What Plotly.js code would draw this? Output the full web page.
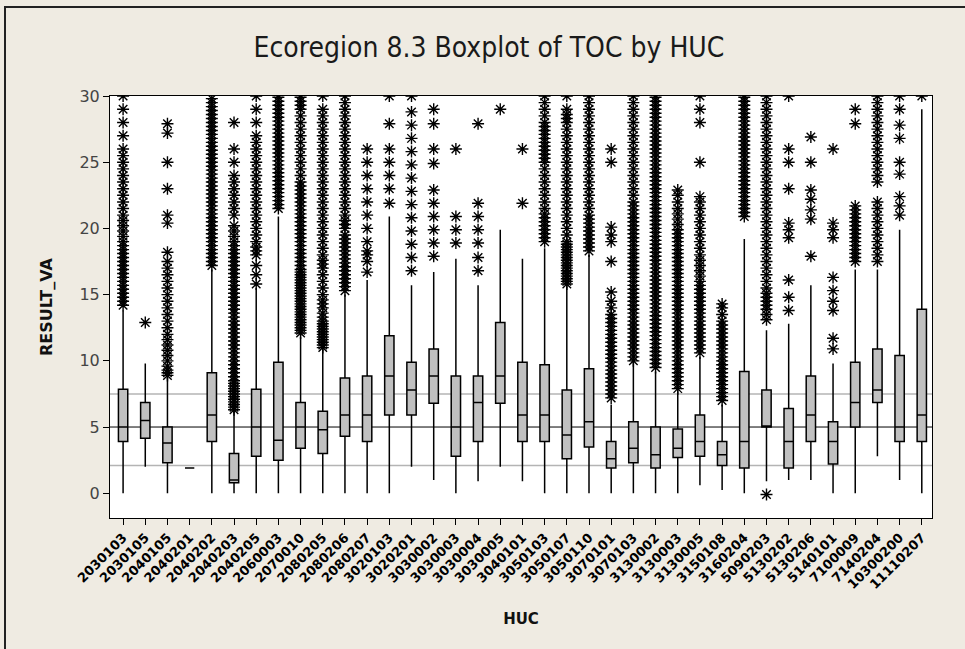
<!DOCTYPE html>
<html>
<head>
<meta charset="utf-8">
<script src="https://cdn.plot.ly/plotly-3.0.1.min.js"></script>
<style>
html,body{margin:0;padding:0;background:#efebe2;}
#chart{width:965px;height:649px;}
</style>
</head>
<body>
<div id="chart"></div>
<script>
// ---- data ----
var categories = ["2030103","2030105","2040105","2040201","2040202","2040203","2040205","2060003","2070010","2080205","2080206","2080207","3020103","3020201","3030002","3030003","3030004","3030005","3040101","3050103","3050107","3050110","3070101","3070103","3130002","3130003","3130005","3150108","3160204","5090203","5130202","5130206","5140101","7100009","7140204","10300200","11110207"];

var q1Values     = [3.9,4.15,2.3,1.9,3.9,0.8,2.8,2.5,3.4,3.0,4.3,3.9,5.9,5.9,6.8,2.8,3.9,6.8,3.9,3.9,2.6,3.5,1.9,2.3,1.9,2.7,2.8,2.1,1.9,5.0,1.9,3.9,2.2,5.0,6.85,3.9,3.9];
var medianValues = [5.0,5.5,3.8,1.9,5.9,1.0,5.0,4.0,5.0,4.8,5.9,5.9,8.86,7.8,8.86,5.0,6.85,8.86,5.9,5.9,4.4,5.4,2.6,3.4,2.9,3.4,3.9,2.9,3.9,5.0,3.9,5.9,3.9,6.85,7.8,5.0,5.9];
var q3Values     = [7.85,6.85,5.0,1.9,9.1,3.0,7.85,9.9,6.85,6.2,8.7,8.86,11.9,9.9,10.9,8.86,8.86,12.9,9.9,9.7,7.8,9.4,3.9,5.4,5.0,4.85,5.9,3.9,9.2,7.8,6.4,8.86,5.4,9.9,10.9,10.4,13.9];
var lowerWhisker = [0,2.0,0,1.9,0,0,0,0,0,0,0,0,0,2.0,1.0,0,0.9,2.0,0.9,0,0,0,0,0,0,0,0.6,0.25,0,0.9,1.0,1.0,0,0,2.8,1.0,0];
var upperWhisker = [13.8,9.8,8.7,1.9,16.9,6.2,15.5,20.9,11.8,10.8,15.0,16.1,20.9,15.7,16.7,17.7,15.7,19.9,17.7,18.5,15.6,18.0,6.7,9.9,9.2,7.7,10.3,6.7,19.2,12.3,12.8,15.7,9.8,16.9,16.9,19.9,29.0];

var outliers = [
  [14.2,14.5,14.8,15.1,15.4,15.7,16,16.3,16.6,16.9,17.2,17.5,17.8,18.1,18.4,18.7,19,19.4,19.8,20.2,20.6,21,21.5,22,22.5,23,23.5,24,24.5,25,25.5,26,27,28,29,30],
  [12.9],
  [8.9,9.1,9.3,9.6,10,10.4,10.8,11.2,11.6,12,12.5,13,13.5,14,14.5,15,15.5,16,16.5,17,17.5,18.2,20.4,21,23,25,27.2,27.9],
  [],
  [17.2,17.5,17.8,18.1,18.4,18.7,19,19.3,19.6,19.9,20.2,20.5,20.8,21.1,21.4,21.7,22,22.3,22.6,22.9,23.2,23.5,23.8,24.1,24.4,24.7,25,25.3,25.6,25.9,26.2,26.5,26.8,27.1,27.4,27.7,28,28.3,28.6,28.9,29.2,29.5,29.8],
  [6.3,6.5,6.7,6.9,7.1,7.3,7.5,7.7,7.9,8.1,8.3,8.5,8.8,9.1,9.4,9.7,10,10.3,10.6,10.9,11.2,11.5,11.8,12.1,12.4,12.7,13,13.3,13.6,13.9,14.2,14.5,14.8,15.1,15.4,15.7,16,16.3,16.6,16.9,17.2,17.5,17.8,18.1,18.4,18.7,19,19.4,19.8,20.2,21,21.5,22,22.5,23,23.5,24,25,26,28],
  [15.8,16.5,17.2,18,18.3,18.6,19,19.5,20,20.5,21,21.5,22,22.5,23,23.5,24,24.5,25,25.5,26,26.5,27,28,29,30],
  [21.5,21.8,22.1,22.4,22.7,23,23.3,23.6,23.9,24.2,24.5,24.8,25.1,25.4,25.7,26,26.3,26.6,26.9,27.2,27.5,27.8,28.1,28.4,28.7,29,29.3,29.6,29.9],
  [12.1,12.3,12.5,12.7,12.9,13.1,13.3,13.5,13.7,13.9,14.1,14.3,14.5,14.7,14.9,15.1,15.3,15.5,15.7,15.9,16.1,16.3,16.5,16.7,16.9,17.2,17.5,17.8,18.1,18.4,18.7,19,19.3,19.6,19.9,20.2,20.5,20.8,21.1,21.4,21.7,22,22.3,22.6,22.9,23.2,23.5,24,24.5,25,25.5,26,26.5,27,27.5,28,28.5,29,29.3,29.6,29.9],
  [11,11.2,11.4,11.6,11.8,12,12.2,12.4,12.6,12.8,13,13.3,13.6,14,14.3,14.6,15,15.5,16,16.5,17,17.3,17.6,18,18.5,19,19.5,20,20.5,21,21.5,22,22.5,23,23.5,24,24.5,25,25.5,26,26.5,27,27.5,28,28.5,29,30],
  [15.3,15.6,15.9,16.2,16.5,16.8,17.1,17.4,17.7,18,18.3,18.6,18.9,19.2,19.5,20,20.3,20.6,21,21.5,22,22.5,23,23.5,24,24.5,25,25.5,26,26.5,27,27.5,28,28.5,29,29.5,30],
  [16.7,17.5,18,18.3,19,20,21,22,23,24,25,26],
  [21.9,23,24,25,26,27.9,30],
  [16.8,17.8,18.8,19.8,20.8,21.8,22.8,23.8,24.8,25.8,26.8,27.8,28.8,30],
  [17.9,18.9,19.9,20.9,21.9,22.9,24.9,26,27.9,29],
  [18.9,19.9,20.9,26],
  [16.8,17.8,18.9,19.9,20.9,21.9,27.9],
  [29],
  [21.9,26],
  [19,19.3,19.6,19.9,20.2,20.5,20.8,21.1,21.5,22,22.5,23,23.5,24,24.5,25,25.3,25.6,25.9,26.2,26.5,26.8,27.1,27.4,27.7,28,28.5,29,29.5,30],
  [15.8,16,16.2,16.4,16.6,16.8,17,17.2,17.4,17.6,17.8,18,18.2,18.4,18.6,18.8,19,19.5,20,20.5,21,21.5,22,22.5,23,23.5,24,24.5,25,25.5,26,26.5,27,27.5,28,28.3,28.6,29,30],
  [18.3,18.6,18.9,19.2,19.5,19.8,20.1,20.4,20.7,21,21.5,22,22.5,23,23.5,24,24.5,25,25.5,26,26.5,27,27.5,28,28.5,29,29.5,30],
  [7.2,7.5,7.8,8.1,8.4,8.7,9,9.3,9.6,9.9,10.2,10.5,10.8,11.1,11.4,11.7,12,12.3,12.6,12.9,13.2,13.5,14,14.5,15.2,17.5,19,19.5,20.1,25,26],
  [10,10.3,10.6,10.9,11.2,11.5,11.8,12.1,12.4,12.7,13,13.3,13.6,13.9,14.2,14.5,14.8,15.1,15.4,15.7,16,16.3,16.6,16.9,17.2,17.5,17.8,18.1,18.4,18.7,19,19.3,19.6,19.9,20.2,20.5,20.8,21.1,21.4,21.7,22,22.5,23,23.5,24,24.5,25,25.5,26,26.5,27,27.5,28,28.5,29,29.5,30],
  [9.5,9.8,10.1,10.4,10.7,11,11.3,11.6,11.9,12.2,12.5,12.8,13.1,13.4,13.7,14,14.3,14.6,14.9,15.2,15.5,15.8,16.1,16.4,16.7,17,17.3,17.6,17.9,18.2,18.5,18.8,19.1,19.4,19.7,20,20.3,20.6,20.9,21.2,21.5,21.8,22.1,22.4,22.7,23,23.3,23.6,23.9,24.2,24.5,24.8,25.1,25.4,25.7,26,26.3,26.6,26.9,27.2,27.5,27.8,28.1,28.4,28.7,29,29.3,29.6,29.9],
  [7.9,8.2,8.5,8.8,9.1,9.4,9.7,10,10.3,10.6,10.9,11.2,11.5,11.8,12.1,12.4,12.7,13,13.3,13.6,13.9,14.2,14.5,14.8,15.1,15.4,15.7,16,16.3,16.6,16.9,17.2,17.5,17.8,18.1,18.4,18.7,19,19.3,19.6,19.9,20.3,20.7,21.1,21.5,22,22.5,22.9],
  [10.6,10.9,11.2,11.5,11.8,12.1,12.4,12.7,13,13.3,13.6,13.9,14.2,14.5,14.8,15.1,15.4,15.7,16,16.4,16.8,17.2,17.6,18,18.5,19,19.5,20,20.5,21,21.5,22,22.4,25,28,29,30],
  [7,7.3,7.6,7.9,8.2,8.5,8.8,9.1,9.4,9.7,10,10.3,10.6,10.9,11.2,11.5,11.8,12.1,12.4,12.7,13,13.5,14,14.3],
  [20.9,21.2,21.5,21.8,22.1,22.4,22.7,23,23.3,23.6,23.9,24.2,24.5,24.8,25.1,25.4,25.7,26,26.3,26.6,26.9,27.2,27.5,27.8,28.1,28.4,28.7,29,29.3,29.6,29.9],
  [-0.1,13.1,13.5,13.9,14.2,14.5,14.8,15.1,15.5,16,16.5,17,17.5,18,18.5,19,19.5,20,20.5,21,21.5,22,22.5,23,23.5,24,24.5,25,25.5,26,26.5,27,27.5,28,28.5,29,29.5,30],
  [13.8,14.8,16.1,19.3,19.9,20.4,23,25,26,30],
  [17.9,20.7,21.4,22.2,22.9,25,26.9],
  [10.9,11.7,13.8,14.5,15.3,16.3,19.3,19.9,20.4,26],
  [17.5,17.8,18.1,18.4,18.7,19,19.3,19.6,19.9,20.2,20.5,20.8,21.1,21.4,21.7,27.9,29],
  [17.5,18,18.5,19,19.5,20,20.5,21,21.5,22,23.5,24,24.5,25,25.5,26,26.5,27,27.5,28,28.5,29,29.5,30],
  [21,21.7,22.4,24.1,25,26.8,27.8,29,30],
  [30]
];

var referenceLines = [7.5, 5, 2.1];
var yTickValues = [0,5,10,15,20,25,30];

// ---- build traces ----
var outX = [], outY = [];
outliers.forEach(function(arr, i){
  arr.forEach(function(v){ outX.push(categories[i]); outY.push(v); });
});

var boxTrace = {
  type: 'box',
  x: categories,
  q1: q1Values,
  median: medianValues,
  q3: q3Values,
  lowerfence: lowerWhisker,
  upperfence: upperWhisker,
  boxpoints: false,
  width: 0.42,
  whiskerwidth: 0,
  fillcolor: '#c0c0c0',
  line: {color: '#000000', width: 1.5},
  hoverinfo: 'skip',
  showlegend: false
};

var outlierTrace = {
  type: 'scatter',
  mode: 'markers',
  x: outX,
  y: outY,
  marker: {symbol: 'asterisk-open', size: 10, color: '#000000', line: {color: '#000000', width: 1.4}},
  hoverinfo: 'skip',
  showlegend: false
};

// frame lines in paper coordinates (plot area 110..932 x 96..518 px)
function px2x(px){ return (px - 110) / 822; }
function py2y(py){ return (518 - py) / 422; }

var shapes = [
  {type:'line', xref:'paper', yref:'y', x0:0, x1:1, y0:referenceLines[0], y1:referenceLines[0], line:{color:'#b4b4b4', width:1.5}, layer:'below'},
  {type:'line', xref:'paper', yref:'y', x0:0, x1:1, y0:referenceLines[1], y1:referenceLines[1], line:{color:'#000000', width:1}, layer:'below'},
  {type:'line', xref:'paper', yref:'y', x0:0, x1:1, y0:referenceLines[2], y1:referenceLines[2], line:{color:'#b4b4b4', width:1.5}, layer:'below'},
  {type:'line', xref:'paper', yref:'paper', x0:px2x(4), x1:px2x(965), y0:py2y(7), y1:py2y(7), line:{color:'#222222', width:2}},
  {type:'line', xref:'paper', yref:'paper', x0:px2x(5), x1:px2x(5), y0:py2y(7), y1:py2y(649), line:{color:'#222222', width:2}}
];

var layout = {
  width: 965,
  height: 649,
  margin: {l:110, r:33, t:96, b:131, pad:0},
  paper_bgcolor: '#efebe2',
  plot_bgcolor: '#ffffff',
  title: {
    text: 'Ecoregion 8.3 Boxplot of TOC by HUC',
    font: {family: '"Liberation Sans Narrow", "DejaVu Sans Condensed", "Open Sans", sans-serif', size: 28, color: '#1a1a1a'},
    x: (489 - 110) / 822, xanchor: 'center', xref: 'paper',
    y: 1 - 47/649, yanchor: 'middle'
  },
  xaxis: {
    type: 'category',
    range: [-0.59, 36.46],
    tickangle: -45,
    ticks: 'outside',
    ticklen: 6,
    tickcolor: '#000',
    showline: true,
    linecolor: '#000',
    linewidth: 1,
    mirror: true,
    showgrid: false,
    zeroline: false,
    tickfont: {family: '"DejaVu Sans", sans-serif', size: 13, color: '#000', weight: 'bold'},
    title: {text: 'HUC', font: {family: '"DejaVu Sans", sans-serif', size: 15, color: '#111', weight: 'bold'}, standoff: 22},
    automargin: false
  },
  yaxis: {
    range: [-1.87, 30],
    tickvals: yTickValues,
    ticks: 'outside',
    ticklen: 6,
    tickcolor: '#000',
    showline: true,
    linecolor: '#000',
    linewidth: 1,
    mirror: true,
    showgrid: false,
    zeroline: false,
    tickfont: {family: '"DejaVu Sans", sans-serif', size: 16, color: '#444'},
    title: {text: 'RESULT_VA', font: {family: '"DejaVu Sans", sans-serif', size: 16, color: '#111', weight: 'bold'}, standoff: 22},
    automargin: false
  },
  shapes: shapes
};

Plotly.newPlot('chart', [boxTrace, outlierTrace], layout, {displayModeBar: false, staticPlot: true});
</script>
</body>
</html>
